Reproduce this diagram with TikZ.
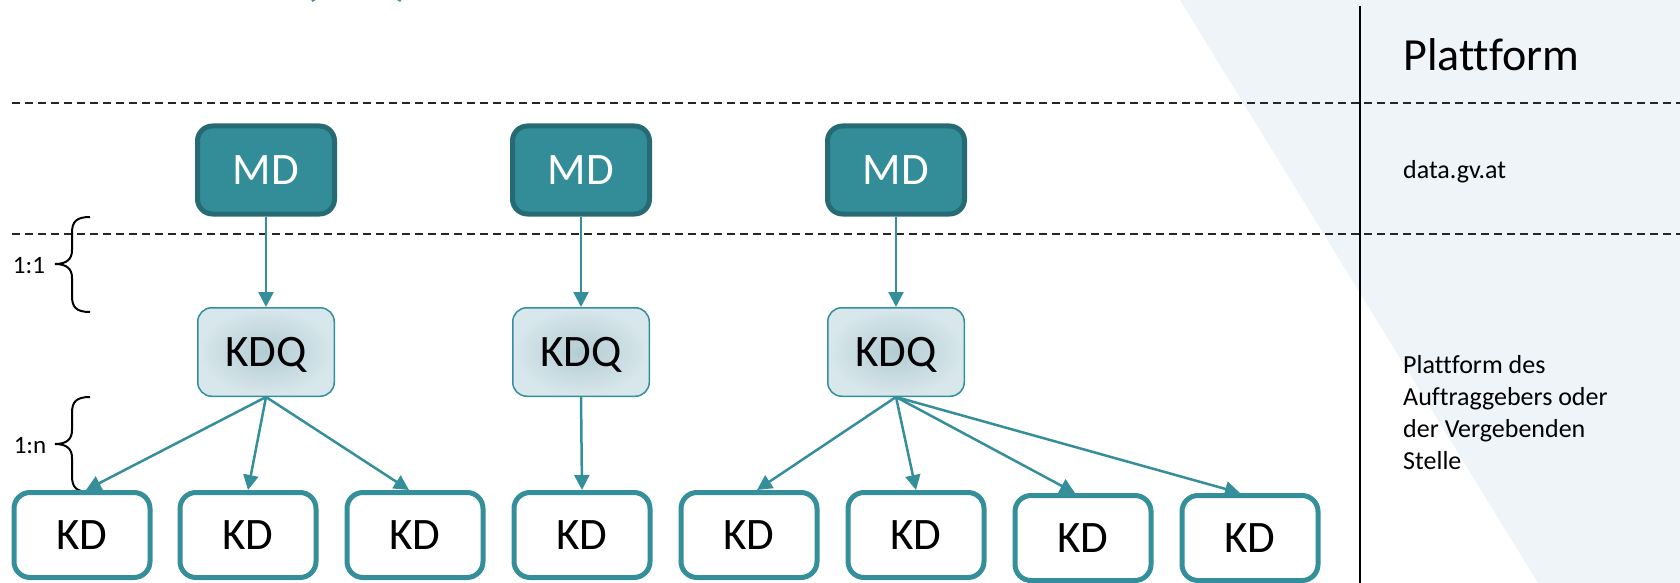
\documentclass[tikz,border=0pt]{standalone}
\usepackage{fontspec}
\setmainfont{Carlito}[Ligatures=NoCommon]
\usetikzlibrary{arrows.meta,shapes.misc}
\definecolor{teal1}{HTML}{348F9B}
\definecolor{mdfill}{HTML}{338D99}
\definecolor{mdborder}{HTML}{266B74}
\definecolor{kdqin}{HTML}{B2CCD2}
\definecolor{kdqout}{HTML}{D8E7EC}
\definecolor{bglight}{HTML}{EEF4F7}
\definecolor{titleteal}{HTML}{3A9AA8}
\tikzset{
  mdbox/.style={draw=mdborder, fill=mdfill, line width=5pt, rounded corners=15pt,
    minimum width=137pt, minimum height=88pt, inner sep=0pt, text=white,
    font=\fontsize{45}{50}\selectfont, text depth=0pt},
  kdqbox/.style={draw=teal1, line width=1.5pt, rounded corners=14pt,
    shading=radial, inner color=kdqin, outer color=kdqout,
    minimum width=136.5pt, minimum height=88.5pt, inner sep=0pt,
    font=\fontsize{45}{50}\selectfont, text depth=0pt},
  kdbox/.style={draw=teal1, fill=white, line width=5pt, rounded corners=16pt,
    minimum width=136pt, minimum height=85pt, inner sep=0pt,
    font=\fontsize{45}{50}\selectfont, text depth=0pt},
  conn/.style={draw=teal1, line width=2.5pt, -{Triangle[width=15pt,length=15pt]}},
  sep/.style={draw=black!85, line width=2pt, dash pattern=on 8pt off 5pt},
  bracestyle/.style={draw=black, line width=2pt},
  smalltext/.style={font=\fontsize{26}{32}\selectfont, inner sep=0pt, align=left},
}
\begin{document}
\begin{tikzpicture}[x=1pt,y=-1pt]
\useasboundingbox (0,0) rectangle (1680,583);
\clip (0,0) rectangle (1680,583);
% background
\fill[bglight] (1180,0) -- (1680,0) -- (1680,583) -- (1538,583) -- cycle;
% title fragment (cut off at top)
\node[anchor=base west, inner sep=0pt, text=titleteal, font=\bfseries\fontsize{60}{60}\selectfont] (title) at (301,-6) {(\hspace{74pt})};
% separators
\draw[sep] (12,103) -- (1680,103);
\draw[sep] (12,234) -- (1680,234);
\draw[black, line width=2pt] (1360,6) -- (1360,583);
% right texts
\node[anchor=base west, inner sep=0pt, font=\fontsize{46}{50}\selectfont] (plat) at (1403,71) {Plattform};
\node[anchor=base west, smalltext] (dgv) at (1403,178) {data.gv.at};
\node[anchor=north west, smalltext] (auft) at (1403,355) {Plattform des\\Auftraggebers oder\\der Vergebenden\\Stelle};
% braces
\draw[bracestyle] (90,217) .. controls (76,217) and (72,222) .. (72,233) -- (72,250)
  .. controls (72,259) and (67,264) .. (55,264) .. controls (67,264) and (72,269) .. (72,278)
  -- (72,296) .. controls (72,307) and (76,312) .. (90,312);
\draw[bracestyle] (90,397) .. controls (76,397) and (72,402) .. (72,413) -- (72,430)
  .. controls (72,439) and (67,444) .. (55,444) .. controls (67,444) and (72,449) .. (72,458)
  -- (72,476) .. controls (72,487) and (76,492) .. (90,492);
\node[smalltext, font=\fontsize{25}{30}\selectfont] (r11) at (29,266) {1:1};
\node[smalltext, font=\fontsize{25}{30}\selectfont] (r1n) at (30,446) {1:n};
% MD boxes
\node[mdbox] (md1) at (266,170) {MD};
\node[mdbox] (md2) at (581,170) {MD};
\node[mdbox] (md3) at (896,170) {MD};
% KDQ boxes
\node[kdqbox] (q1) at (266,352) {KDQ};
\node[kdqbox] (q2) at (581,352) {KDQ};
\node[kdqbox] (q3) at (896,352) {KDQ};
% KD boxes
\node[kdbox] (k1) at (82,535) {KD};
\node[kdbox] (k2) at (248,535) {KD};
\node[kdbox] (k3) at (415,535) {KD};
\node[kdbox] (k4) at (582,535) {KD};
\node[kdbox] (k5) at (749,535) {KD};
\node[kdbox] (k6) at (916,535) {KD};
\node[kdbox] (k7) at (1083,538) {KD};
\node[kdbox] (k8) at (1250,538) {KD};
% connectors
\draw[conn] (md1.south) -- (q1.north);
\draw[conn] (md2.south) -- (q2.north);
\draw[conn] (md3.south) -- (q3.north);
\draw[conn] (q1.south) -- ([xshift=4pt]k1.north);
\draw[conn] (q1.south) -- (k2.north);
\draw[conn] (q1.south) -- ([xshift=-6pt]k3.north);
\draw[conn] (q2.south) -- (k4.north);
\draw[conn] (q3.south) -- ([xshift=8pt]k5.north);
\draw[conn] (q3.south) -- (k6.north);
\draw[conn] (q3.south) -- ([xshift=-8pt]k7.north);
\draw[conn] (q3.south) -- ([xshift=-10pt]k8.north);
\end{tikzpicture}
\end{document}
